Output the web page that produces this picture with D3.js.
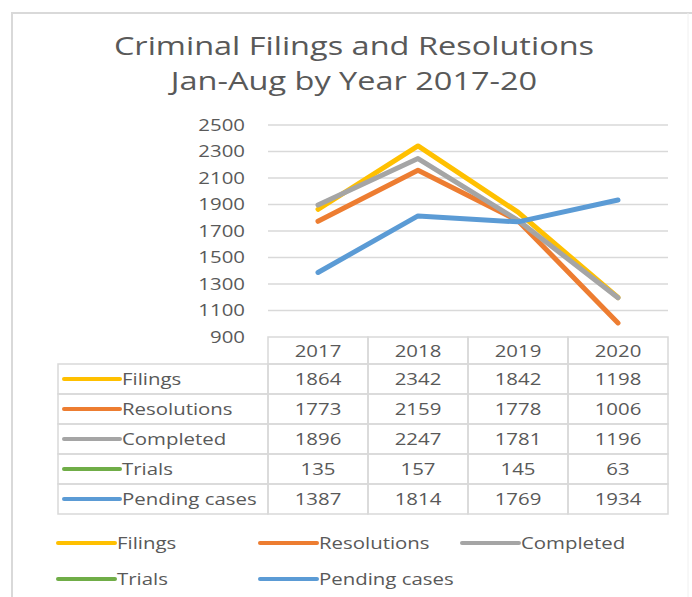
<!DOCTYPE html>
<html>
<head>
<meta charset="utf-8">
<script src="https://cdn.jsdelivr.net/npm/d3@7"></script>
<style>
  body { margin: 0; background: #fff; }
  svg { display: block; font-family: "Open Sans", sans-serif; }
</style>
</head>
<body>
<svg width="692" height="597"></svg>
<script>
// chart data
const years = ["2017", "2018", "2019", "2020"];
const seriesNames = ["Filings", "Resolutions", "Completed", "Trials", "Pending cases"];
const filings = [1864, 2342, 1842, 1198];
const resolutions = [1773, 2159, 1778, 1006];
const completed = [1896, 2247, 1781, 1196];
const trials = [135, 157, 145, 63];
const pending = [1387, 1814, 1769, 1934];
const yTicks = [900, 1100, 1300, 1500, 1700, 1900, 2100, 2300, 2500];

const colors = ["#ffc000", "#ed7d31", "#a5a5a5", "#70ad47", "#5b9bd5"];
const seriesValues = [filings, resolutions, completed, trials, pending];
const series = seriesNames.map((name, i) => ({name: name, values: seriesValues[i], color: colors[i]}));

var svg = d3.select("svg");
const textColor = "#595959";
const gridColor = "#d9d9d9";
const stretch = 1.2;   // the original text is set quite wide

// put a text at (x, y) and widen it horizontally
function place(sel, x, y, sx) {
  sel.attr("x", 0).attr("y", 0)
    .attr("transform", function(d, i) {
      var px = typeof x == "function" ? x(d, i) : x;
      var py = typeof y == "function" ? y(d, i) : y;
      return "translate(" + px + "," + py + ") scale(" + sx + ",1)";
    });
}

// outer chart border
svg.append("path")
  .attr("d", "M12,597 V13 H692")
  .attr("fill", "none")
  .attr("stroke", gridColor)
  .attr("stroke-width", 2);
svg.append("line")
  .attr("x1", 688).attr("x2", 688)
  .attr("y1", 13).attr("y2", 597)
  .attr("stroke", "#f0f0f0")
  .attr("stroke-width", 1);

// title
svg.append("text")
  .attr("text-anchor", "middle")
  .attr("fill", textColor)
  .style("font-size", "26px")
  .text("Criminal Filings and Resolutions")
  .call(place, 354, 55, 1.25);
svg.append("text")
  .attr("text-anchor", "middle")
  .attr("fill", textColor)
  .style("font-size", "26px")
  .text("Jan-Aug by Year 2017-20")
  .call(place, 354, 90, 1.25);

var plot = {left: 268, right: 668, top: 125, bottom: 337};

var x = d3.scaleBand()
  .domain(years)
  .range([plot.left, plot.right]);

var y = d3.scaleLinear()
  .domain([900, 2500])
  .range([plot.bottom, plot.top]);

// gridlines
svg.append("g")
  .selectAll("line")
  .data(yTicks.slice(1))
  .enter()
  .append("line")
  .attr("x1", plot.left)
  .attr("x2", plot.right)
  .attr("y1", d => y(d))
  .attr("y2", d => y(d))
  .attr("stroke", gridColor)
  .attr("stroke-width", 1.5);

// y axis labels
var yAxis = svg.append("g")
  .attr("transform", "translate(245,0)")
  .call(d3.axisLeft(y).tickValues(yTicks).tickFormat(d3.format("d")).tickSize(0).tickPadding(0));
yAxis.select(".domain").remove();
yAxis.selectAll("text")
  .attr("fill", textColor)
  .attr("x", 0)
  .attr("transform", "scale(" + stretch + ",1)")
  .style("font-size", "17px")
  .style("font-family", "'Open Sans', sans-serif");

// lines, clipped so the Trials series stays hidden below 900
svg.append("defs").append("clipPath")
  .attr("id", "plot-clip")
  .append("rect")
  .attr("x", plot.left - 10)
  .attr("y", plot.top - 10)
  .attr("width", plot.right - plot.left + 20)
  .attr("height", plot.bottom - plot.top + 10);

var line = d3.line()
  .x((d, i) => x(years[i]) + x.bandwidth() / 2)
  .y(d => y(d));

// drawn in series order, later series on top
svg.append("g")
  .attr("clip-path", "url(#plot-clip)")
  .selectAll("path")
  .data(series.filter(s => s.name !== "Trials"))
  .enter()
  .append("path")
  .attr("d", d => line(d.values))
  .attr("fill", "none")
  .attr("stroke", d => d.color)
  .attr("stroke-width", 5)
  .attr("stroke-linecap", "round")
  .attr("stroke-linejoin", "round");

// data table
var table = svg.append("g");
var headerTop = 337, rowTop = 364, rowH = 30, labelLeft = 58;

table.selectAll(".hdr")
  .data(years)
  .enter()
  .append("rect")
  .attr("x", d => x(d))
  .attr("y", headerTop)
  .attr("width", x.bandwidth())
  .attr("height", rowTop - headerTop)
  .attr("fill", "none")
  .attr("stroke", gridColor)
  .attr("stroke-width", 1.5);

table.selectAll(".hdrtext")
  .data(years)
  .enter()
  .append("text")
  .attr("text-anchor", "middle")
  .attr("fill", textColor)
  .style("font-size", "17px")
  .text(d => d)
  .call(place, d => x(d) + x.bandwidth() / 2, headerTop + 20, stretch);

var rows = table.selectAll(".row")
  .data(series)
  .enter()
  .append("g")
  .attr("transform", (d, i) => "translate(0," + (rowTop + i * rowH) + ")");

rows.append("rect")
  .attr("x", labelLeft)
  .attr("y", 0)
  .attr("width", plot.left - labelLeft)
  .attr("height", rowH)
  .attr("fill", "none")
  .attr("stroke", gridColor)
  .attr("stroke-width", 1.5);

rows.selectAll(".cell")
  .data(d => d.values.map((v, i) => ({year: years[i], value: v})))
  .enter()
  .append("rect")
  .attr("x", d => x(d.year))
  .attr("y", 0)
  .attr("width", x.bandwidth())
  .attr("height", rowH)
  .attr("fill", "none")
  .attr("stroke", gridColor)
  .attr("stroke-width", 1.5);

rows.selectAll(".val")
  .data(d => d.values.map((v, i) => ({year: years[i], value: v})))
  .enter()
  .append("text")
  .attr("text-anchor", "middle")
  .attr("fill", textColor)
  .style("font-size", "17px")
  .text(d => d.value)
  .call(place, d => x(d.year) + x.bandwidth() / 2, 21, stretch);

rows.append("line")
  .attr("x1", 64)
  .attr("x2", 120)
  .attr("y1", rowH / 2)
  .attr("y2", rowH / 2)
  .attr("stroke", d => d.color)
  .attr("stroke-width", 4)
  .attr("stroke-linecap", "round");

rows.append("text")
  .attr("fill", textColor)
  .style("font-size", "17px")
  .text(d => d.name)
  .call(place, 122, 21, stretch);

// legend
var legendPos = [[58, 543], [260, 543], [462, 543], [58, 579], [260, 579]];
var legend = svg.append("g")
  .selectAll("g")
  .data(series)
  .enter()
  .append("g")
  .attr("transform", (d, i) => "translate(" + legendPos[i][0] + "," + legendPos[i][1] + ")");

legend.append("line")
  .attr("x1", 0)
  .attr("x2", 57)
  .attr("y1", 0)
  .attr("y2", 0)
  .attr("stroke", d => d.color)
  .attr("stroke-width", 4)
  .attr("stroke-linecap", "round");

legend.append("text")
  .attr("fill", textColor)
  .style("font-size", "17px")
  .text(d => d.name)
  .call(place, 59, 6, stretch);
</script>
</body>
</html>
